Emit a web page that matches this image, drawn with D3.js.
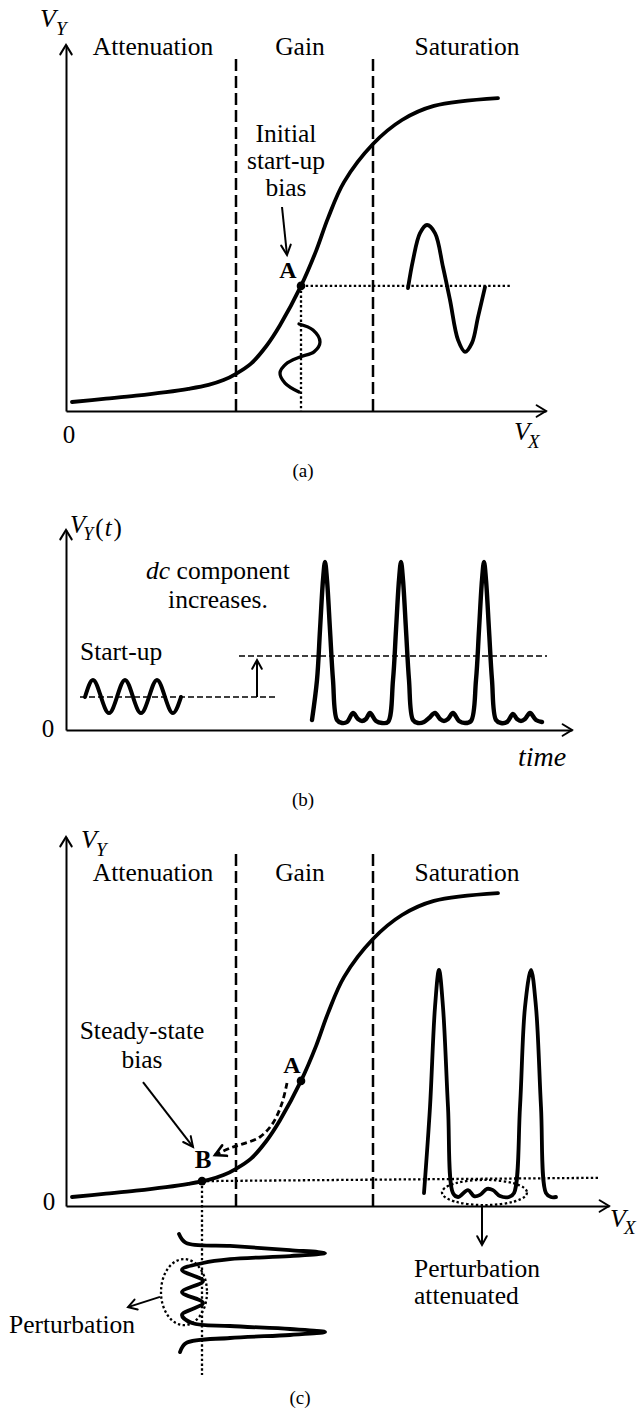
<!DOCTYPE html>
<html><head><meta charset="utf-8"><title>Bias shift of a nonlinear stage</title>
<script src="https://cdn.jsdelivr.net/npm/d3@7/dist/d3.min.js"></script>
<style>
html,body{margin:0;padding:0;background:#fff}
svg{display:block}
svg text{font-family:'Liberation Serif','Times New Roman','DejaVu Serif',serif;fill:#000}
</style></head><body>
<svg id="fig" width="642" height="1410" font-family="Liberation Serif, Times New Roman, DejaVu Serif, serif"></svg>
<script>
// ================= DATA (arbitrary units) =================
// transfer characteristic V_Y(V_X), shared by (a) and (c)
const regionNames  = ["Attenuation", "Gain", "Saturation"];
const regionEdges  = [34, 61.4];
const regionLabelX = [17.4, 46.8, 80.2];
const curveX = [1.2, 8, 14, 20, 24.5, 28.5, 31.5, 34, 37, 40, 42.8, 47, 50, 52.4, 55.6, 61.4, 67.2, 73.6, 86.4];
const curveY = [3, 4.1, 5.1, 6.3, 7.4, 8.7, 10.3, 12.4, 15.8, 21.5, 28.6, 41.7, 53.3, 64.3, 76.3, 89, 97, 101.7, 104.3];
const biasA = [47, 41.7];
const biasB = [27.2, 8.3];

// (a) small input swing around A (V_X value vs. time drawn downward on V_Y axis)
const aInX = [46.6, 49.4, 50.8, 49.6, 46.8, 44, 42.8, 43.8, 46.6];
const aInY = [29, 27, 23, 19.7, 18, 15.7, 12.7, 9.3, 6.3];
// (a) amplified output swing
const aOutX = [68.4, 69.4, 70.8, 72.2, 73.8, 75.4, 76.8, 78.4, 79.8, 81.2, 82.4, 83.8];
const aOutY = [41, 50.3, 59.3, 62, 59.3, 48, 37, 23.7, 19.7, 22.7, 31.3, 41.3];

// (b) V_Y(t)
const bStartT = [3.8, 5.4, 7, 8.6, 10.2, 11.8, 13.4, 15, 16.6, 18.2, 19.8, 21.4, 23];
const bStartV = [16.5, 25, 16.5, 8.5, 16.5, 25, 16.5, 8.5, 16.5, 25, 16.5, 8.5, 16.5];
const bDcLow  = 16.5;
const bDcHigh = 37;
const bPulseT = [49.2, 50.2, 50.8, 51.4, 51.8, 52.2, 52.8, 53.4, 54.2, 55.2, 56.2, 57.4, 58.4, 59.2, 60, 60.8, 62, 63.2, 64.4,
                 65.4, 66, 66.6, 67, 67.4, 68, 68.6, 69.4, 70.4, 71.6, 72.6, 73.8, 74.8, 75.6, 76.4, 77.4, 78.6, 79.8, 81,
                 82, 82.6, 83.2, 83.6, 84, 84.6, 85.2, 86, 87, 88.2, 89.4, 90.2, 91, 91.8, 92.8, 94, 95.2];
const bPulseV = [5, 25, 50, 75, 84, 75, 50, 25, 5, 3.5, 4, 8.5, 5.5, 4.5, 5.5, 8.5, 4.5, 3.5, 4,
                 25, 50, 75, 84, 75, 50, 25, 5, 3.5, 4, 6, 8.5, 5.5, 4.5, 5.5, 8.5, 4.5, 3.5, 4.5,
                 25, 50, 75, 84, 75, 50, 25, 5, 3.5, 4, 8, 5.5, 4.5, 5.5, 8.5, 5, 4];

// (c) output pulses in saturation region
const cOutX = [71.6, 72.8, 73.8, 74.6, 75.4, 76.4, 77.4, 78.4, 80.4, 81.6, 82.8, 84.2, 85.4, 86.8, 88.6,
               89.6, 90.8, 91.8, 93, 94, 95, 96, 97, 98];
const cOutY = [4.3, 33, 66.3, 78.7, 66.3, 33, 4.3, 3, 5.3, 3.3, 3.7, 5.7, 5.3, 3.3, 3,
               4.3, 33, 66.3, 78.7, 66.3, 33, 4.3, 3, 3];
// (c) input waveform around B (V_X value vs. time drawn downward)
const cInX = [22.6, 24, 32.8, 44.8, 51.8, 44.8, 32.8, 27.4, 23.2, 27.4, 23.2, 27.4, 23.2, 25.2,
              32.8, 44.8, 51.8, 44.8, 32.8, 24, 22.8];
const cInY = [-9.3, -12.3, -13.3, -14.7, -15.7, -16.7, -17.7, -19, -21.3, -25, -28.7, -32.3, -36.3, -39,
              -40, -41, -42, -43, -44, -45.7, -48.7];
// (c) dashed path A -> B
const abX = [44.2, 43.2, 41.4, 38.8, 35.4, 32.8, 29.8];
const abY = [41, 34.3, 27.7, 23, 20.7, 19.3, 17];

// ================= DRAWING =================
const FONT = "Liberation Serif, Times New Roman, DejaVu Serif, serif";
const svg = d3.select("#fig");
const zip = (xs, ys) => xs.map((x, i) => [x, ys[i]]);

function chevron(g, x, y, ang, len = 10, spread = 0.55, sw = 2) {
  const p1 = [x - len * Math.cos(ang - spread), y - len * Math.sin(ang - spread)];
  const p2 = [x - len * Math.cos(ang + spread), y - len * Math.sin(ang + spread)];
  g.append("path").attr("d", `M${p1[0]},${p1[1]}L${x},${y}L${p2[0]},${p2[1]}`)
    .attr("fill", "none").attr("stroke", "#000").attr("stroke-width", sw)
    .attr("stroke-linejoin", "miter").attr("stroke-linecap", "round");
}
function arrow(g, x1, y1, x2, y2, opts = {}) {
  g.append("line").attr("x1", x1).attr("y1", y1).attr("x2", x2).attr("y2", y2)
    .attr("stroke", "#000").attr("stroke-width", opts.sw || 2);
  chevron(g, x2, y2, Math.atan2(y2 - y1, x2 - x1), opts.len || 10, opts.spread || 0.5, opts.sw || 2);
}
function axes(g, x, y, xMax, yMax) {
  g.append("g").attr("transform", `translate(0,${y(0)})`)
    .call(d3.axisBottom(x).tickValues([]).tickSizeOuter(0))
    .call(s => s.select(".domain").attr("stroke", "#000").attr("stroke-width", 2));
  g.append("g").attr("transform", `translate(${x(0)},0)`)
    .call(d3.axisLeft(y).tickValues([]).tickSizeOuter(0))
    .call(s => s.select(".domain").attr("stroke", "#000").attr("stroke-width", 2));
  chevron(g, x(xMax), y(0), 0, 11, 0.55);
  chevron(g, x(0), y(yMax), -Math.PI / 2, 11, 0.55);
}
function txt(g, x, y, s, o = {}) {
  return g.append("text").attr("x", x).attr("y", y).text(s)
    .attr("font-family", FONT)
    .attr("font-size", o.size || 25.5)
    .attr("text-anchor", o.anchor || "middle")
    .attr("font-style", o.italic ? "italic" : null)
    .attr("font-weight", o.bold ? "bold" : null);
}
// variable name with subscript as ONE text element: V + sub (+ optional "(t)")
function varLabel(g, x, y, main, s, o = {}) {
  const t = g.append("text").attr("x", x).attr("y", y).attr("font-family", FONT)
    .attr("font-size", o.size || 26).attr("text-anchor", "start");
  t.append("tspan").attr("font-style", "italic").text(main);
  t.append("tspan").attr("font-style", "italic").attr("font-size", o.subSize || 19)
    .attr("dx", o.dx || 0).attr("dy", o.dy || 8).text(s);
  if (o.arg) {
    t.append("tspan").attr("dy", -(o.dy || 8) + 3).attr("dx", 2).text("(");
    t.append("tspan").attr("font-style", "italic").attr("dx", 1).text(o.arg);
    t.append("tspan").attr("dx", 2).text(")");
  }
  return t;
}
const dashed = sel => sel.attr("stroke", "#000").attr("stroke-width", 2.5).attr("stroke-dasharray", "12,5").attr("fill", "none");
const dotted = sel => sel.attr("stroke", "#000").attr("stroke-width", 2.3).attr("stroke-dasharray", "2.4,2.4").attr("fill", "none");
const thick = (sel, w = 3.6) => sel.attr("stroke", "#000").attr("stroke-width", w).attr("fill", "none")
  .attr("stroke-linecap", "round").attr("stroke-linejoin", "round");

function transferPanel(g, x, y, xMax, yMax) {
  axes(g, x, y, xMax, yMax);
  regionEdges.forEach(e => g.append("line").attr("x1", x(e)).attr("x2", x(e))
    .attr("y1", y(0)).attr("y2", y(119)).call(dashed));
  const line = d3.line().x(d => x(d[0])).y(d => y(d[1])).curve(d3.curveCatmullRom.alpha(0.5));
  g.append("path").attr("d", line(zip(curveX, curveY))).call(thick, 3.8);
}

// ---------- (a) ----------
{
  const g = svg.append("g");
  const x = d3.scaleLinear([0, 96], [66, 546]);
  const y = d3.scaleLinear([0, 122], [411, 45]);
  transferPanel(g, x, y, 96, 122);
  regionNames.forEach((n, i) => txt(g, x(regionLabelX[i]), 55, n));
  g.append("line").attr("x1", x(biasA[0])).attr("x2", x(89.2)).attr("y1", y(biasA[1])).attr("y2", y(biasA[1])).call(dotted);
  g.append("line").attr("x1", x(biasA[0])).attr("x2", x(biasA[0])).attr("y1", y(biasA[1])).attr("y2", y(0)).call(dotted);
  const cr = d3.line().x(d => x(d[0])).y(d => y(d[1])).curve(d3.curveCatmullRom.alpha(0.5));
  g.append("path").attr("d", cr(zip(aInX, aInY))).call(thick, 3.3);
  g.append("path").attr("d", cr(zip(aOutX, aOutY))).call(thick, 3.8);
  g.append("circle").attr("cx", x(biasA[0])).attr("cy", y(biasA[1])).attr("r", 4.3);
  txt(g, x(44.4), 278, "A", {bold: true, size: 24});
  ["Initial", "start-up", "bias"].forEach((s, i) => txt(g, 286, 142 + i * 27, s));
  arrow(g, x(43.2), y(68), x(44.2), y(52), {len: 11, spread: 0.45});
  varLabel(g, 40, 27, "V", "Y", {dx: 0, dy: 8});
  varLabel(g, 514, 440, "V", "X", {dx: -2, dy: 8});
  txt(g, 69, 443, "0", {size: 25});
  txt(g, 303, 477, "(a)", {size: 19});
}

// ---------- (b) ----------
{
  const g = svg.append("g");
  const x = d3.scaleLinear([0, 101.2], [66, 572]);
  const y = d3.scaleLinear([0, 100], [730, 530]);
  axes(g, x, y, 101.2, 100);
  const thin = sel => sel.attr("stroke", "#000").attr("stroke-width", 1.3).attr("stroke-dasharray", "6,3");
  g.append("line").attr("x1", x(2.8)).attr("x2", x(42.2)).attr("y1", y(bDcLow)).attr("y2", y(bDcLow)).call(thin);
  g.append("line").attr("x1", x(34.6)).attr("x2", x(96.2)).attr("y1", y(bDcHigh)).attr("y2", y(bDcHigh)).call(thin);
  arrow(g, x(38.2), y(bDcLow), x(38.2), y(35), {len: 10, spread: 0.5});
  const nat = d3.line().x(d => x(d[0])).y(d => y(d[1])).curve(d3.curveNatural);
  g.append("path").attr("d", nat(zip(bStartT, bStartV))).call(thick, 4);
  const cr = d3.line().x(d => x(d[0])).y(d => y(d[1])).curve(d3.curveCatmullRom.alpha(0.5));
  g.append("path").attr("d", cr(zip(bPulseT, bPulseV))).call(thick, 4.4);
  const t1 = g.append("text").attr("x", 218).attr("y", 579).attr("text-anchor", "middle")
    .attr("font-size", 25.5).attr("font-family", FONT);
  t1.append("tspan").attr("font-style", "italic").text("dc");
  t1.append("tspan").text(" component");
  txt(g, 218, 608, "increases.");
  txt(g, 80, 660, "Start-up", {anchor: "start"});
  varLabel(g, 70, 533, "V", "Y", {size: 25, subSize: 18, dx: -2, dy: 7, arg: "t"});
  txt(g, 48, 737, "0", {size: 25});
  txt(g, 518, 766, "time", {size: 28, anchor: "start", italic: true});
  txt(g, 303, 806, "(b)", {size: 19});
}

// ---------- (c) ----------
{
  const g = svg.append("g");
  const x = d3.scaleLinear([0, 108.6], [66, 609]);
  const y = d3.scaleLinear([0, 123], [1206, 837]);
  transferPanel(g, x, y, 108.6, 123);
  regionNames.forEach((n, i) => txt(g, x(regionLabelX[i]), 881, n));
  g.append("line").attr("x1", x(biasB[0])).attr("x2", x(106.8)).attr("y1", y(biasB[1])).attr("y2", y(9.4)).call(dotted);
  g.append("line").attr("x1", x(biasB[0])).attr("x2", x(biasB[0])).attr("y1", y(biasB[1])).attr("y2", y(-56.3)).call(dotted);
  const cr = d3.line().x(d => x(d[0])).y(d => y(d[1])).curve(d3.curveCatmullRom.alpha(0.5));
  g.append("path").attr("d", cr(zip(cOutX, cOutY))).call(thick, 3.8);
  g.append("path").attr("d", cr(zip(cInX, cInY))).call(thick, 3.8);
  g.append("ellipse").attr("cx", x(83.7)).attr("cy", y(4.5)).attr("rx", x(8.5) - x(0)).attr("ry", y(0) - y(4.2)).call(dotted);
  g.append("ellipse").attr("cx", x(23.6)).attr("cy", y(-28.7)).attr("rx", x(4.6) - x(0)).attr("ry", y(0) - y(11)).call(dotted);
  arrow(g, x(83.2), y(0), x(83.2), y(-13), {len: 10, spread: 0.5});
  arrow(g, x(18.8), y(-30.3), x(12.4), y(-33.7), {len: 10, spread: 0.55});
  const ab = zip(abX, abY);
  g.append("path").attr("d", cr(ab)).attr("stroke", "#000").attr("stroke-width", 2.8)
    .attr("stroke-dasharray", "6,3.5").attr("fill", "none");
  const n = ab.length;
  chevron(g, x(ab[n - 1][0]), y(ab[n - 1][1]),
    Math.atan2(y(ab[n - 1][1]) - y(ab[n - 2][1]), x(ab[n - 1][0]) - x(ab[n - 2][0])), 12, 0.5, 2.6);
  arrow(g, x(15.4), y(41.3), x(25.4), y(19.7), {len: 11, spread: 0.45});
  g.append("circle").attr("cx", x(biasA[0])).attr("cy", y(biasA[1])).attr("r", 4.3);
  g.append("circle").attr("cx", x(biasB[0])).attr("cy", y(biasB[1])).attr("r", 4.3);
  txt(g, 292, 1073, "A", {bold: true, size: 24});
  txt(g, 203, 1168, "B", {bold: true, size: 25});
  txt(g, 142, 1039, "Steady-state");
  txt(g, 142, 1068, "bias");
  txt(g, 414, 1277, "Perturbation", {anchor: "start"});
  txt(g, 414, 1304, "attenuated", {anchor: "start"});
  txt(g, 9, 1333, "Perturbation", {anchor: "start"});
  varLabel(g, 81, 848, "V", "Y", {dx: -1, dy: 8});
  varLabel(g, 610, 1227, "V", "X", {dx: -2, dy: 7});
  txt(g, 49, 1210, "0", {size: 25});
  txt(g, 300, 1404, "(c)", {size: 19});
}
</script>
</body></html>
